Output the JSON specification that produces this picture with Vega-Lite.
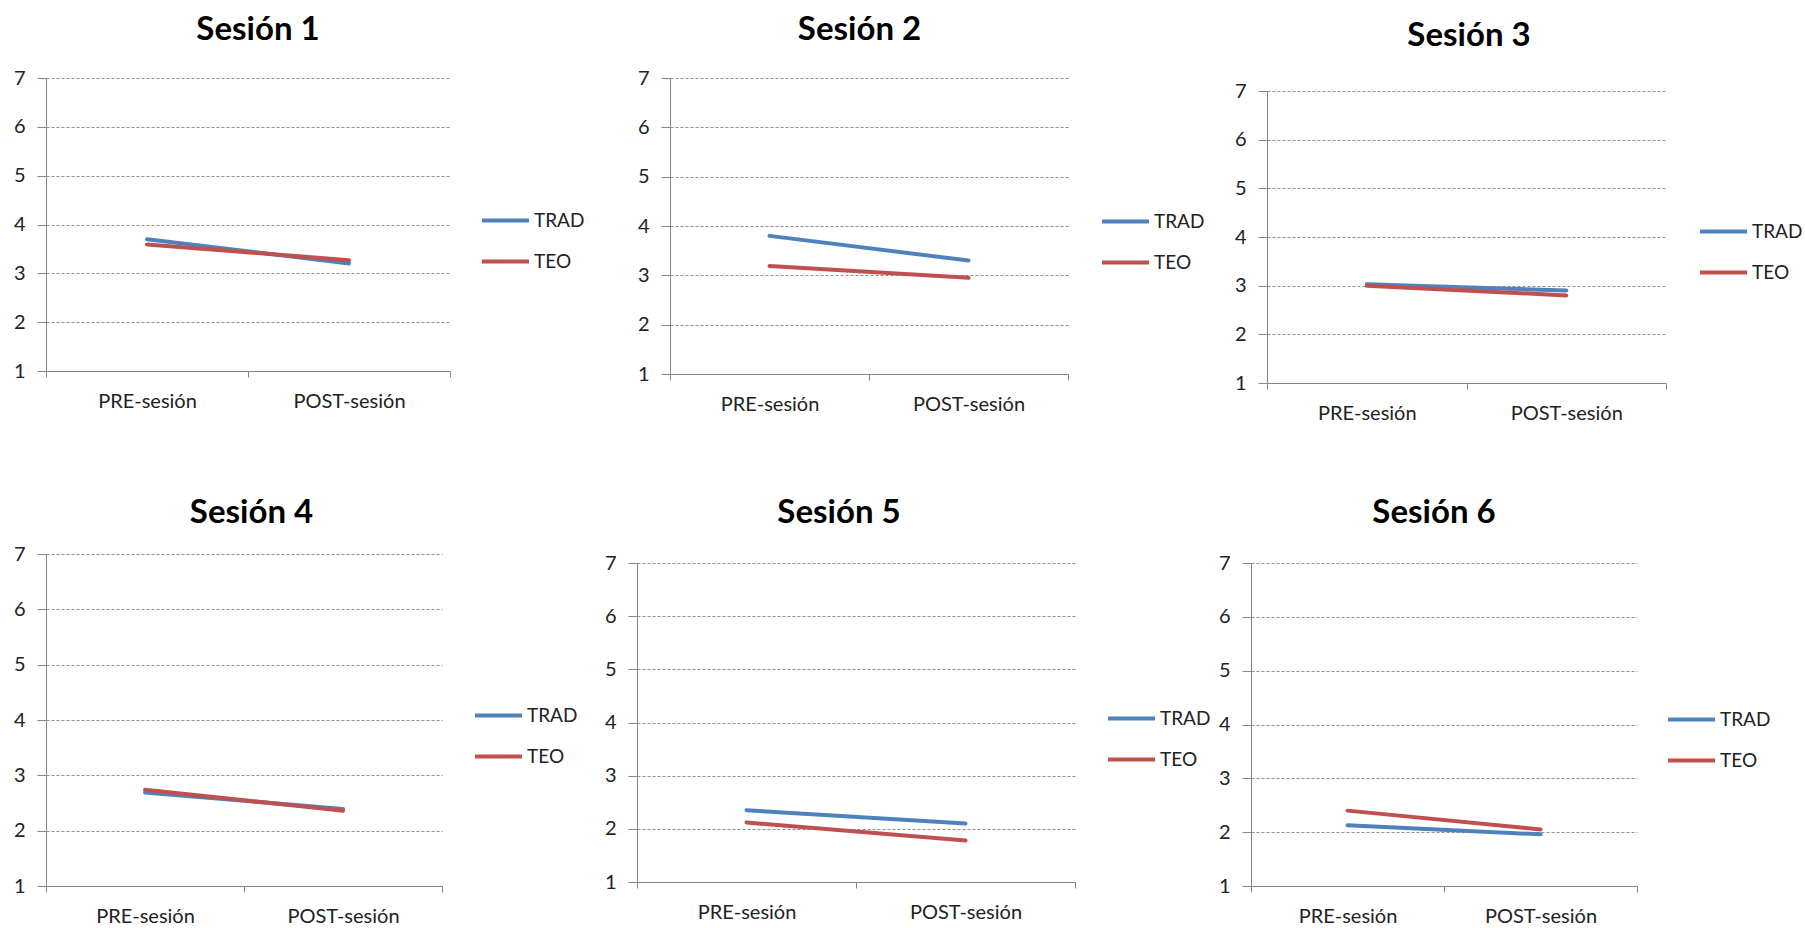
{
  "$schema": "https://vega.github.io/schema/vega-lite/v6.json",
  "background": "white",
  "padding": {"left": 0, "top": 14, "right": 0, "bottom": 0},
  "data": {
    "values": [
      {"sesion": "Sesión 1", "momento": "PRE-sesión", "grupo": "TRAD", "valor": 3.70},
      {"sesion": "Sesión 1", "momento": "POST-sesión", "grupo": "TRAD", "valor": 3.20},
      {"sesion": "Sesión 1", "momento": "PRE-sesión", "grupo": "TEO", "valor": 3.59},
      {"sesion": "Sesión 1", "momento": "POST-sesión", "grupo": "TEO", "valor": 3.27},
      {"sesion": "Sesión 2", "momento": "PRE-sesión", "grupo": "TRAD", "valor": 3.80},
      {"sesion": "Sesión 2", "momento": "POST-sesión", "grupo": "TRAD", "valor": 3.30},
      {"sesion": "Sesión 2", "momento": "PRE-sesión", "grupo": "TEO", "valor": 3.19},
      {"sesion": "Sesión 2", "momento": "POST-sesión", "grupo": "TEO", "valor": 2.95},
      {"sesion": "Sesión 3", "momento": "PRE-sesión", "grupo": "TRAD", "valor": 3.03},
      {"sesion": "Sesión 3", "momento": "POST-sesión", "grupo": "TRAD", "valor": 2.90},
      {"sesion": "Sesión 3", "momento": "PRE-sesión", "grupo": "TEO", "valor": 3.00},
      {"sesion": "Sesión 3", "momento": "POST-sesión", "grupo": "TEO", "valor": 2.80},
      {"sesion": "Sesión 4", "momento": "PRE-sesión", "grupo": "TRAD", "valor": 2.69},
      {"sesion": "Sesión 4", "momento": "POST-sesión", "grupo": "TRAD", "valor": 2.39},
      {"sesion": "Sesión 4", "momento": "PRE-sesión", "grupo": "TEO", "valor": 2.74},
      {"sesion": "Sesión 4", "momento": "POST-sesión", "grupo": "TEO", "valor": 2.36},
      {"sesion": "Sesión 5", "momento": "PRE-sesión", "grupo": "TRAD", "valor": 2.35},
      {"sesion": "Sesión 5", "momento": "POST-sesión", "grupo": "TRAD", "valor": 2.10},
      {"sesion": "Sesión 5", "momento": "PRE-sesión", "grupo": "TEO", "valor": 2.12},
      {"sesion": "Sesión 5", "momento": "POST-sesión", "grupo": "TEO", "valor": 1.78},
      {"sesion": "Sesión 6", "momento": "PRE-sesión", "grupo": "TRAD", "valor": 2.13},
      {"sesion": "Sesión 6", "momento": "POST-sesión", "grupo": "TRAD", "valor": 1.96},
      {"sesion": "Sesión 6", "momento": "PRE-sesión", "grupo": "TEO", "valor": 2.40},
      {"sesion": "Sesión 6", "momento": "POST-sesión", "grupo": "TEO", "valor": 2.05}
    ]
  },
  "config": {
    "view": {"stroke": null},
    "font": "Lato",
    "title": {"font": "Lato", "fontSize": 33, "fontWeight": "bold", "color": "#000000", "anchor": "middle", "frame": "group", "baseline": "top"},
    "axis": {"labelFont": "Lato", "labelFontSize": 20, "labelColor": "#222222", "domainColor": "#868686", "domainWidth": 1, "tickColor": "#868686", "tickWidth": 1, "title": null},
    "axisX": {"grid": false, "tickBand": "extent", "tickSize": 6, "labelPadding": 14, "labelAngle": 0},
    "axisY": {"grid": true, "gridDash": [3, 2], "gridColor": "#8e8e8e", "gridWidth": 1, "tickSize": 9, "labelPadding": 12},
    "legend": {"title": null, "orient": "none", "padding": 0, "symbolType": "stroke", "symbolSize": 2209, "symbolStrokeWidth": 4, "labelFont": "Lato", "labelFontSize": 19, "labelColor": "#222222", "labelOffset": 3, "rowPadding": 5},
    "line": {"strokeWidth": 4, "strokeCap": "round"}
  },
  "spacing": 74,
  "resolve": {"scale": {"color": "independent"}, "legend": {"color": "independent"}},
  "vconcat": [
    {
      "spacing": 0,
      "resolve": {"scale": {"color": "independent"}, "legend": {"color": "independent"}},
      "hconcat": [
        {
          "title": {"text": "Sesión 1", "offset": 21, "dx": -80},
          "width": 584, "height": 293,
          "transform": [{"filter": "datum.sesion === 'Sesión 1'"}],
          "mark": {"type": "line"},
          "encoding": {
            "x": {"field": "momento", "type": "nominal", "sort": ["PRE-sesión", "POST-sesión"], "scale": {"type": "band", "paddingInner": 0, "paddingOuter": 0, "range": [0, 404]}},
            "y": {"field": "valor", "type": "quantitative", "scale": {"domain": [1, 7], "nice": false, "zero": false}, "axis": {"values": [1, 2, 3, 4, 5, 6, 7], "format": "d", "minExtent": 46, "maxExtent": 46}},
            "color": {"field": "grupo", "type": "nominal", "scale": {"domain": ["TRAD", "TEO"], "range": ["#4F81BD", "#C0504D"]}, "legend": {"legendX": 434, "legendY": 117}}
          }
        },
        {
          "title": {"text": "Sesión 2", "offset": 21, "dx": -89},
          "width": 557, "height": 296,
          "transform": [{"filter": "datum.sesion === 'Sesión 2'"}],
          "mark": {"type": "line"},
          "encoding": {
            "x": {"field": "momento", "type": "nominal", "sort": ["PRE-sesión", "POST-sesión"], "scale": {"type": "band", "paddingInner": 0, "paddingOuter": 0, "range": [0, 398]}},
            "y": {"field": "valor", "type": "quantitative", "scale": {"domain": [1, 7], "nice": false, "zero": false}, "axis": {"values": [1, 2, 3, 4, 5, 6, 7], "format": "d", "minExtent": 40, "maxExtent": 40}},
            "color": {"field": "grupo", "type": "nominal", "scale": {"domain": ["TRAD", "TEO"], "range": ["#4F81BD", "#C0504D"]}, "legend": {"legendX": 430, "legendY": 118}}
          }
        },
        {
          "title": {"text": "Sesión 3", "offset": 25, "dx": -63},
          "width": 530, "height": 305,
          "transform": [{"filter": "datum.sesion === 'Sesión 3'"}],
          "mark": {"type": "line"},
          "encoding": {
            "x": {"field": "momento", "type": "nominal", "sort": ["PRE-sesión", "POST-sesión"], "scale": {"type": "band", "paddingInner": 0, "paddingOuter": 0, "range": [0, 399]}},
            "y": {"field": "valor", "type": "quantitative", "scale": {"domain": [1, 7], "nice": false, "zero": false, "range": [305, 13]}, "axis": {"values": [1, 2, 3, 4, 5, 6, 7], "format": "d", "minExtent": 40, "maxExtent": 40}},
            "color": {"field": "grupo", "type": "nominal", "scale": {"domain": ["TRAD", "TEO"], "range": ["#4F81BD", "#C0504D"]}, "legend": {"legendX": 431, "legendY": 128}}
          }
        }
      ]
    },
    {
      "spacing": 0,
      "resolve": {"scale": {"color": "independent"}, "legend": {"color": "independent"}},
      "hconcat": [
        {
          "title": {"text": "Sesión 4", "offset": 14, "dx": -70},
          "width": 551, "height": 332,
          "transform": [{"filter": "datum.sesion === 'Sesión 4'"}],
          "mark": {"type": "line"},
          "encoding": {
            "x": {"field": "momento", "type": "nominal", "sort": ["PRE-sesión", "POST-sesión"], "scale": {"type": "band", "paddingInner": 0, "paddingOuter": 0, "range": [0, 396]}},
            "y": {"field": "valor", "type": "quantitative", "scale": {"domain": [1, 7], "nice": false, "zero": false}, "axis": {"values": [1, 2, 3, 4, 5, 6, 7], "format": "d", "minExtent": 45, "maxExtent": 45}},
            "color": {"field": "grupo", "type": "nominal", "scale": {"domain": ["TRAD", "TEO"], "range": ["#4F81BD", "#C0504D"]}, "legend": {"legendX": 427, "legendY": 136}}
          }
        },
        {
          "title": {"text": "Sesión 5", "offset": 23, "dx": -83},
          "width": 570, "height": 328,
          "transform": [{"filter": "datum.sesion === 'Sesión 5'"}],
          "mark": {"type": "line"},
          "encoding": {
            "x": {"field": "momento", "type": "nominal", "sort": ["PRE-sesión", "POST-sesión"], "scale": {"type": "band", "paddingInner": 0, "paddingOuter": 0, "range": [0, 438]}},
            "y": {"field": "valor", "type": "quantitative", "scale": {"domain": [1, 7], "nice": false, "zero": false, "range": [328, 9]}, "axis": {"values": [1, 2, 3, 4, 5, 6, 7], "format": "d", "minExtent": 40, "maxExtent": 40}},
            "color": {"field": "grupo", "type": "nominal", "scale": {"domain": ["TRAD", "TEO"], "range": ["#4F81BD", "#C0504D"]}, "legend": {"legendX": 469, "legendY": 139}}
          }
        },
        {
          "title": {"text": "Sesión 6", "offset": 23, "dx": -92},
          "width": 550, "height": 332,
          "transform": [{"filter": "datum.sesion === 'Sesión 6'"}],
          "mark": {"type": "line"},
          "encoding": {
            "x": {"field": "momento", "type": "nominal", "sort": ["PRE-sesión", "POST-sesión"], "scale": {"type": "band", "paddingInner": 0, "paddingOuter": 0, "range": [0, 386]}},
            "y": {"field": "valor", "type": "quantitative", "scale": {"domain": [1, 7], "nice": false, "zero": false, "range": [332, 9]}, "axis": {"values": [1, 2, 3, 4, 5, 6, 7], "format": "d", "minExtent": 40, "maxExtent": 40}},
            "color": {"field": "grupo", "type": "nominal", "scale": {"domain": ["TRAD", "TEO"], "range": ["#4F81BD", "#C0504D"]}, "legend": {"legendX": 415, "legendY": 140}}
          }
        }
      ]
    }
  ]
}
